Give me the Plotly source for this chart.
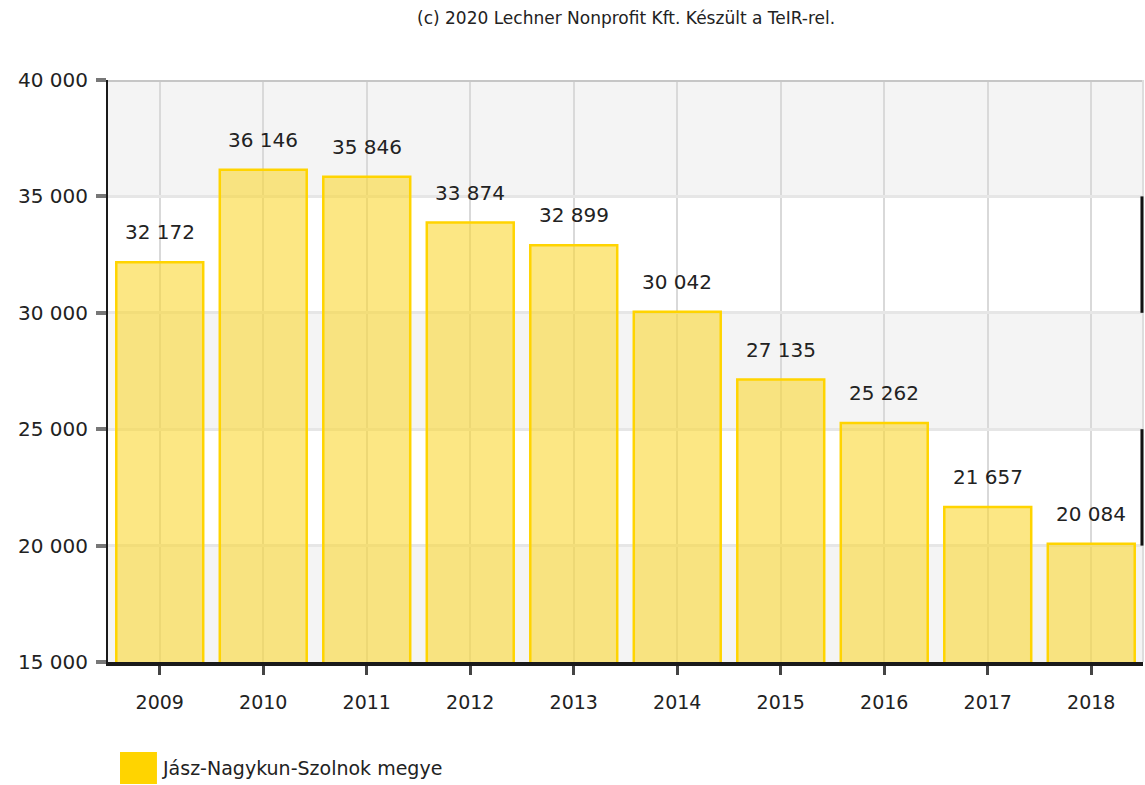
import plotly.graph_objects as go

years = ["2009", "2010", "2011", "2012", "2013", "2014", "2015", "2016", "2017", "2018"]
values = [32172, 36146, 35846, 33874, 32899, 30042, 27135, 25262, 21657, 20084]
y_ticks = [15000, 20000, 25000, 30000, 35000, 40000]
series_name = "Jász-Nagykun-Szolnok megye"
title_text = "(c) 2020 Lechner Nonprofit Kft. Készült a TeIR-rel."


def fmt(v):
    return f"{v:,}".replace(",", " ")


FONT = "DejaVu Sans, Verdana, sans-serif"

fig = go.Figure()
fig.add_trace(go.Bar(
    x=years, y=values, name=series_name, width=0.84,
    marker=dict(color="rgba(250,215,50,0.6)", line=dict(color="rgba(255,212,0,1)", width=2.5)),
    showlegend=False, hoverinfo="x+y",
))

for i, v in enumerate(values):
    fig.add_annotation(x=i, y=v, xref="x", yref="y", text=fmt(v), showarrow=False, yanchor="middle",
                       yshift=30, font=dict(size=20, color="#222", family=FONT))

shapes = []
for lo in (15000, 25000, 35000):
    shapes.append(dict(type="rect", xref="paper", yref="y", x0=0, x1=1, y0=lo, y1=lo + 5000,
                       fillcolor="#f4f4f4", line=dict(width=0), layer="below"))
shapes.append(dict(type="line", xref="paper", yref="y", x0=0, x1=1, y0=40000, y1=40000,
                   line=dict(color="#c6c6c6", width=4), layer="above"))
shapes.append(dict(type="line", xref="paper", yref="y", x0=1, x1=1, y0=15000, y1=40000,
                   line=dict(color="#dddddd", width=2), layer="above"))
for lo in (20000, 30000):
    shapes.append(dict(type="line", xref="paper", yref="y", x0=0.999, x1=0.999, y0=lo, y1=lo + 5000,
                       line=dict(color="#111", width=3), layer="above"))
shapes.append(dict(type="rect", xref="paper", yref="paper", x0=0.0116, x1=0.0473, y0=-0.2096, y1=-0.1546,
                   fillcolor="#ffd400", line=dict(width=0)))
fig.update_layout(shapes=shapes)

fig.add_annotation(xref="paper", yref="paper", x=0.0502, y=-0.182, xanchor="left", yanchor="middle",
                   text=series_name, showarrow=False, font=dict(size=19, color="#222", family=FONT))
fig.add_annotation(xref="paper", yref="paper", x=0.5, y=1.1065, xanchor="center", yanchor="middle",
                   text=title_text, showarrow=False, font=dict(size=17, color="#222", family=FONT))

fig.update_layout(
    width=1145, height=785,
    margin=dict(l=108, r=2, t=80, b=123),
    paper_bgcolor="white", plot_bgcolor="white",
    font=dict(family=FONT, size=19, color="#222"),
    bargap=0.16,
    xaxis=dict(
        type="category", showgrid=True, gridcolor="#d9d9d9", gridwidth=2,
        showline=True, linecolor="#1a1a1a", linewidth=4,
        ticks="outside", ticklen=9, tickwidth=3, tickcolor="#444",
        ticklabelstandoff=11, tickfont=dict(size=19, color="#222"),
        range=[-0.5, 9.5], fixedrange=True,
    ),
    yaxis=dict(
        range=[15000, 40000], tickvals=y_ticks, ticktext=[fmt(t) for t in y_ticks],
        showgrid=True, gridcolor="#e6e6e6", gridwidth=3, zeroline=False,
        showline=True, linecolor="#1a1a1a", linewidth=2,
        ticks="outside", ticklen=10, tickwidth=4, tickcolor="#777",
        ticklabelstandoff=4, tickfont=dict(size=20, color="#222"),
    ),
)

fig.write_html("out.html", config={"displayModeBar": False},
               post_script="document.body.style.margin='0';document.body.style.overflow='hidden';")
